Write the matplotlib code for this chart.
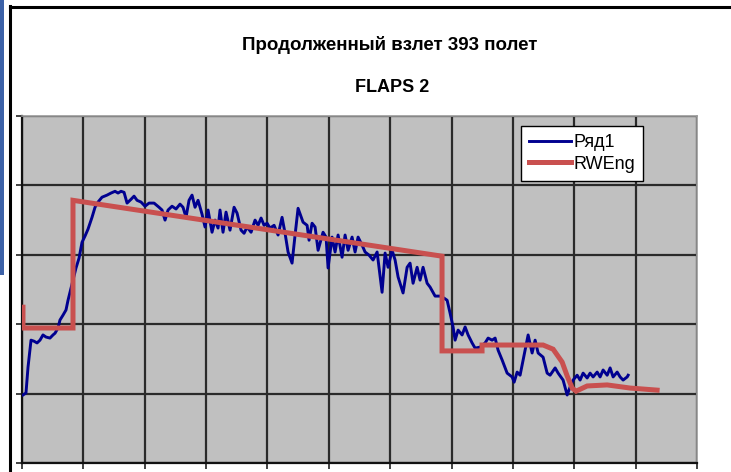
"""
Продолженный взлет 393 полет - FLAPS 2 (Excel style line chart).
"""

import numpy as np
import matplotlib
matplotlib.use("Agg")
import matplotlib.pyplot as plt
from matplotlib.lines import Line2D
from matplotlib.patches import Rectangle
from matplotlib.ticker import MultipleLocator, NullFormatter

# Series "Ряд1" (measured, noisy)
row1_x = [0.16, 0.65, 0.98, 1.47, 1.96, 2.45, 2.93, 3.42, 3.91, 4.56, 5.05, 5.38,
          5.87, 6.19, 6.68, 7.17, 7.50, 7.82, 8.31, 8.80, 9.29, 9.78, 10.27, 10.76,
          11.41, 11.90, 12.39, 13.04, 13.86, 14.51, 15.16, 15.65, 16.14, 16.63,
          17.12, 17.77, 18.26, 18.75, 19.40, 20.05, 20.70, 21.52, 22.33, 22.82,
          23.31, 23.80, 24.45, 25.10, 25.75, 26.24, 26.73, 27.22, 27.71, 28.20,
          28.69, 29.34, 29.83, 30.32, 30.97, 31.46, 31.95, 32.27, 32.76, 33.25,
          33.90, 34.56, 35.05, 35.70, 36.19, 36.68, 37.33, 37.98, 38.47, 38.96,
          39.45, 39.94, 40.42, 41.08, 41.73, 42.38, 42.87, 43.36, 44.01, 44.50,
          44.99, 45.80, 46.46, 46.78, 47.27, 47.76, 48.25, 49.06, 49.55, 49.88,
          50.53, 51.02, 51.51, 52.16, 52.65, 53.14, 53.79, 54.28, 54.77, 55.42,
          55.91, 56.56, 57.21, 57.87, 58.68, 59.17, 59.66, 60.31, 60.80, 61.29,
          62.10, 62.76, 63.24, 63.73, 64.39, 64.87, 65.36, 66.02, 66.50, 67.32,
          68.13, 68.79, 69.28, 69.76, 70.25, 70.58, 71.07, 71.72, 72.21, 72.70,
          73.35, 73.84, 74.65, 75.47, 75.96, 76.61, 77.10, 77.59, 78.24, 79.06,
          79.87, 80.20, 80.69, 81.17, 81.99, 82.48, 83.13, 83.62, 84.11, 84.92,
          85.58, 86.06, 86.88, 87.37, 88.18, 88.84, 89.32, 89.81, 90.47, 90.95,
          91.44, 92.10, 92.58, 93.07, 93.73, 94.21, 94.70, 95.36, 95.84, 96.33,
          96.99, 97.47, 97.96, 98.62, 98.78]
row1_y = [19.6, 20.2, 27.6, 35.4, 35.1, 34.6, 35.4, 36.9, 36.3, 36.0, 36.9, 37.4,
          38.9, 41.2, 42.6, 44.1, 46.9, 49.2, 52.7, 56.2, 59.0, 63.6, 65.4, 67.4,
          70.8, 73.7, 75.2, 76.6, 77.2, 77.8, 78.3, 77.8, 78.3, 78.0,
          74.9, 76.0, 76.9, 75.7, 75.2, 74.0, 74.9, 74.9, 73.7, 72.9,
          70.0, 72.9, 74.0, 73.2, 74.6, 73.7, 70.8, 75.7, 77.2, 73.7,
          75.7, 71.7, 68.0, 72.9, 66.5, 70.0, 67.7, 72.9, 66.5, 72.3,
          67.1, 73.7, 72.0, 67.1, 66.2, 68.0, 66.5, 70.0, 68.5, 70.6,
          68.5, 69.1, 67.7, 68.5, 65.7, 70.8, 66.2, 60.8, 57.6, 65.7,
          73.4, 69.4, 68.5, 64.2, 69.1, 68.0, 61.3, 66.5, 65.1, 56.2,
          65.1, 60.8, 65.7, 59.3, 65.7, 61.3, 65.1, 60.8, 65.1, 62.8,
          60.8, 59.9, 58.5, 60.8, 49.2, 60.5, 56.4, 61.3, 58.5, 53.6,
          49.0, 56.4, 57.6, 51.8, 56.4, 52.7, 56.4, 51.8, 50.7, 48.1,
          48.1, 47.5, 46.9, 43.2, 39.2, 35.4, 38.3, 36.9, 39.2, 36.9,
          34.6, 33.1, 33.4, 34.6, 36.0, 35.4, 36.0, 32.5, 29.7, 25.9,
          24.8, 23.3, 26.2, 25.3, 32.5, 36.9, 31.7, 35.4, 31.7, 30.5,
          25.9, 25.3, 27.4, 25.9, 23.9, 19.6, 21.9, 23.9, 25.3, 23.9,
          25.9, 24.5, 25.9, 24.8, 26.2, 24.8, 26.8, 25.3, 27.4, 24.8,
          26.2, 24.8, 23.9, 24.8, 25.3]

# Series "RWEng" (reference)
rweng_x = [0.16, 0.16, 8.31, 8.31, 68.45, 68.45, 74.97, 74.97, 84.92, 86.55,
           88.02, 88.84, 89.65, 90.30, 92.10, 95.36, 99.10, 103.5]
rweng_y = [44.9, 38.9, 38.9, 75.7, 59.6, 32.3, 32.3, 34.0, 34.0, 32.8,
           29.1, 25.1, 21.6, 20.7, 22.2, 22.5, 21.6, 21.0]

title_text = "Продолженный взлет 393 полет"
subtitle_text = "FLAPS 2"
series_names = ["Ряд1", "RWEng"]

W, H = 731, 472
fig = plt.figure(figsize=(W / 100, H / 100), dpi=100)
fig.patch.set_facecolor("white")

# outer frame of the chart object and the blue strip of the window
fig.add_artist(Rectangle((0, 1 - 275 / H), 3.5 / W, 275 / H,
                         transform=fig.transFigure, color="#3D62A8", lw=0))
fig.add_artist(Line2D([10 / W, 10 / W], [0, 1 - 6 / H], transform=fig.transFigure,
                      color="black", lw=2.2))
fig.add_artist(Line2D([10 / W, 1], [1 - 7 / H, 1 - 7 / H], transform=fig.transFigure,
                      color="black", lw=2.2))

ax = fig.add_axes([22 / W, 9 / H, 675 / W, 347 / H])
ax.set_facecolor("#C0C0C0")
ax.set_xlim(0, 110)
ax.set_ylim(0, 100)
ax.xaxis.set_major_locator(MultipleLocator(10))
ax.yaxis.set_major_locator(MultipleLocator(20))
ax.xaxis.set_major_formatter(NullFormatter())
ax.yaxis.set_major_formatter(NullFormatter())
ax.tick_params(direction="out", length=4, width=1.2, color="#222222")
ax.grid(True, color="#2a2a2a", lw=1.6)
ax.set_axisbelow(True)
for side in ["top", "right"]:
    ax.spines[side].set_color("#9a9a9a")
    ax.spines[side].set_linewidth(1.2)
for side in ["left", "bottom"]:
    ax.spines[side].set_color("#111111")
    ax.spines[side].set_linewidth(1.6)

ax.plot(row1_x, row1_y, color="#000090", lw=2.1, label=series_names[0],
        solid_joinstyle="round", zorder=3)
ax.plot(rweng_x, rweng_y, color="#C9504F", lw=3.6, label=series_names[1],
        solid_joinstyle="miter", zorder=4)

leg = ax.legend(loc="upper left", bbox_to_anchor=(499 / 675, 1 - 10 / 347),
                frameon=True, fancybox=False, framealpha=1, edgecolor="black",
                handlelength=2.3, handletextpad=0.15, borderpad=0.45,
                labelspacing=0.25, borderaxespad=0,
                prop={"family": "Liberation Sans", "size": 13})
leg.get_frame().set_linewidth(1.0)

fig.text(390 / W, 1 - 45 / H, title_text, ha="center", va="center",
         family="Liberation Sans", weight="bold", fontsize=13.5)
fig.text(392 / W, 1 - 88 / H, subtitle_text, ha="center", va="center",
         family="Liberation Sans", weight="bold", fontsize=13)

fig.savefig("out.png", dpi=100)
